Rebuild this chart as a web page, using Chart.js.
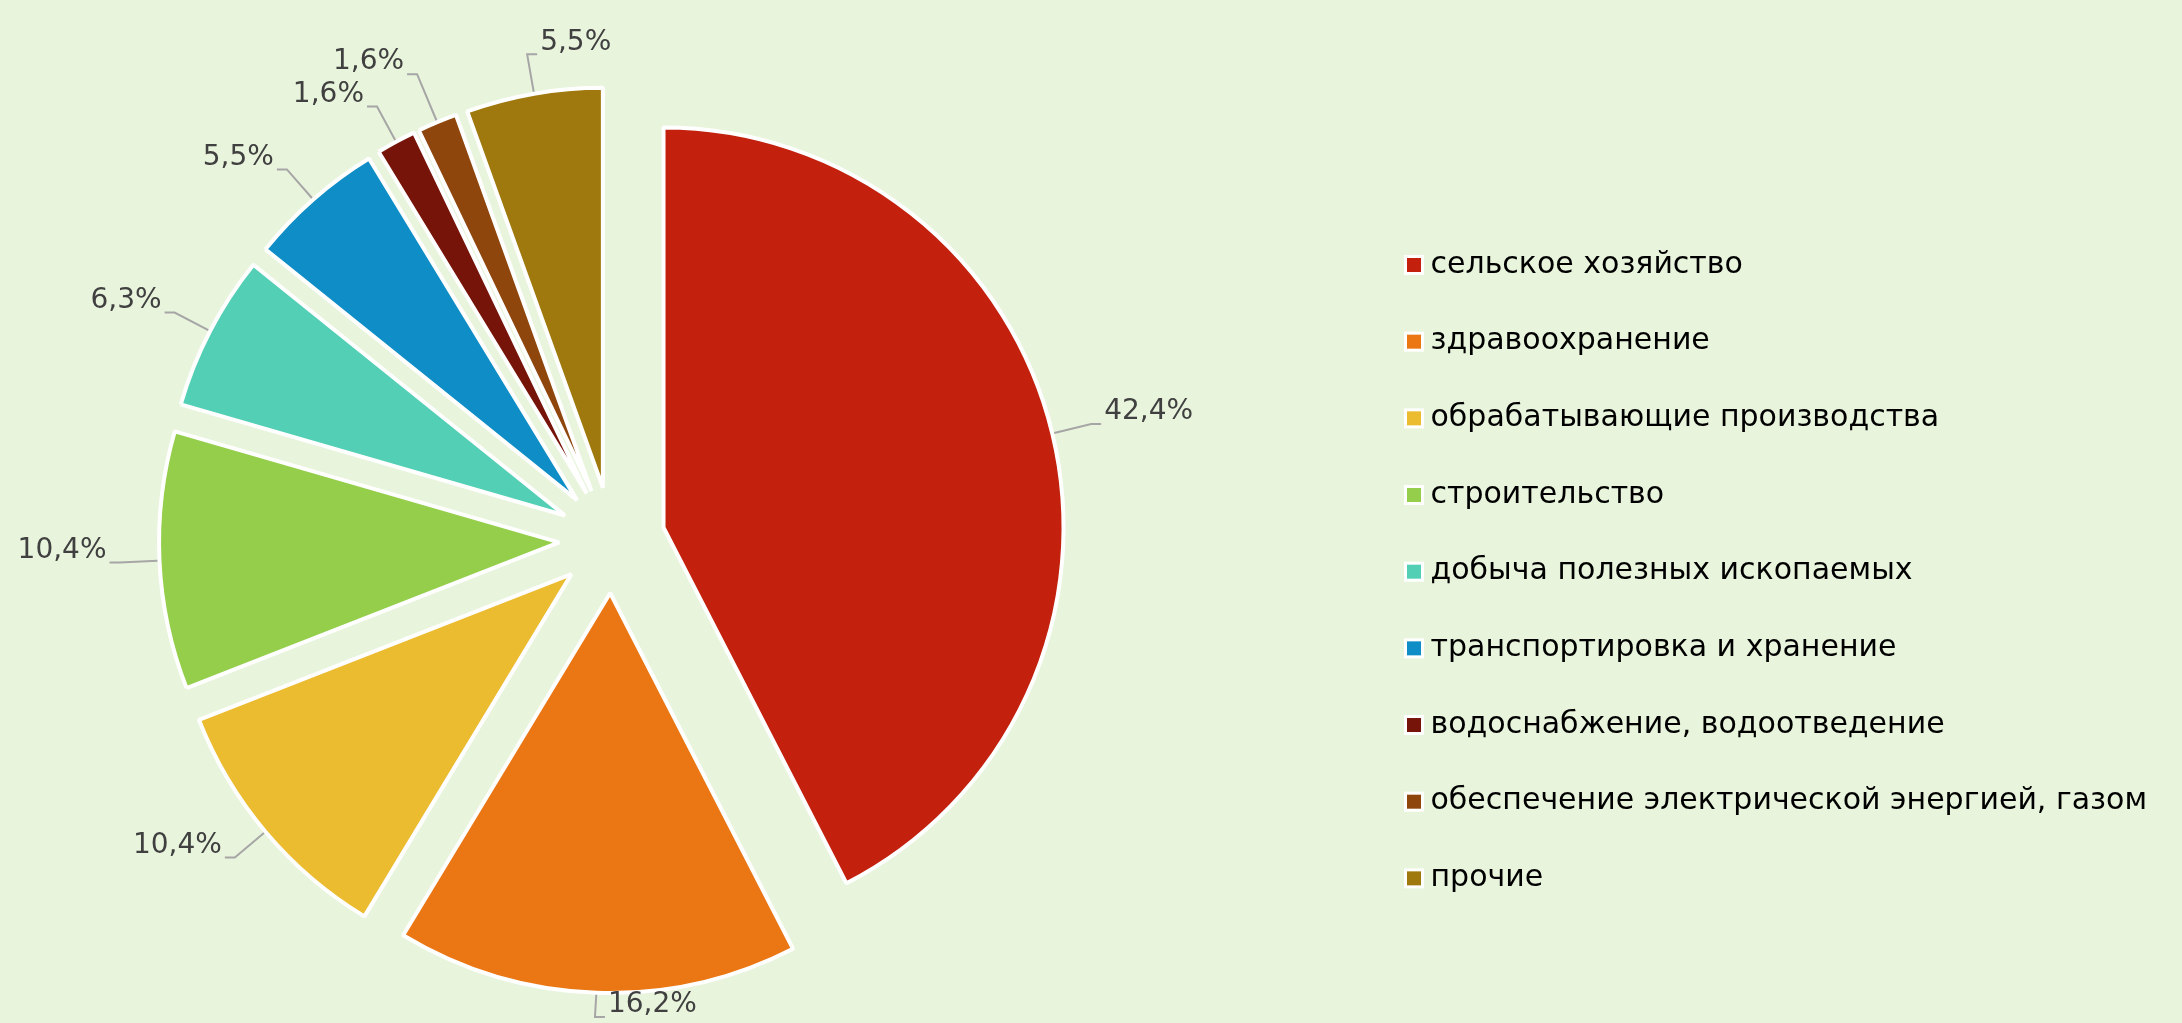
<!DOCTYPE html>
<html lang="ru">
<head>
<meta charset="utf-8">
<title>Структура по отраслям</title>
<script src="https://cdn.jsdelivr.net/npm/chart.js@4.4.1/dist/chart.umd.min.js"></script>
<style>
  html, body { margin: 0; padding: 0; background: #e8f5dc; overflow: hidden; }
</style>
</head>
<body>
<canvas id="chart" width="2182" height="1023"></canvas>
<script>
// данные
var sectors = [
    'сельское хозяйство',
    'здравоохранение',
    'обрабатывающие производства',
    'строительство',
    'добыча полезных ископаемых',
    'транспортировка и хранение',
    'водоснабжение, водоотведение',
    'обеспечение электрической энергией, газом',
    'прочие'
];
var shares = [42.4, 16.2, 10.4, 10.4, 6.3, 5.5, 1.6, 1.6, 5.5];
var colors = ['#c3200e', '#ea7614', '#ebbb30', '#94ce4b', '#52cfb4', '#0e8dc6', '#771409', '#8e460c', '#9f790e'];

var EXPLODE = 53;

function fmt(v) {
    return v.toFixed(1).replace('.', ',') + '%';
}

// every slice pushed out from the centre along its middle angle
var explode = {
    id: 'explode',
    beforeDatasetDraw: function(chart, args) {
        var ctx = chart.ctx;
        args.meta.data.forEach(function(arc) {
            var mid = (arc.startAngle + arc.endAngle) / 2;
            ctx.save();
            ctx.translate(Math.cos(mid) * EXPLODE, Math.sin(mid) * EXPLODE);
            arc.draw(ctx);
            ctx.restore();
        });
        return false;
    }
};

// percent labels with leader lines
var sliceLabels = {
    id: 'sliceLabels',
    afterDatasetsDraw: function(chart) {
        var ctx = chart.ctx;
        var meta = chart.getDatasetMeta(0);
        var placed = [];
        ctx.save();
        ctx.font = '28px "DejaVu Sans"';
        ctx.textBaseline = 'middle';
        meta.data.forEach(function(arc, i) {
            var p = arc.getProps(['x', 'y', 'startAngle', 'endAngle', 'outerRadius'], true);
            var mid = (p.startAngle + p.endAngle) / 2;
            var dx = Math.cos(mid), dy = Math.sin(mid);
            var cx = p.x + dx * EXPLODE, cy = p.y + dy * EXPLODE;
            var text = fmt(shares[i]);
            var w = ctx.measureText(text).width, h = 28;
            var side = dx > -0.2 ? 1 : -1;
            var lead = 40, ex, ey, tx, box;
            for (var k = 0; k < 30; k++) {
                ex = cx + dx * (p.outerRadius + lead);
                ey = Math.min(cy + dy * (p.outerRadius + lead), chart.height - 6);
                tx = ex + side * 10;
                var left = side > 0 ? tx + 3 : tx - 3 - w;
                box = {l: left, r: left + w, t: ey - 12 - h / 2, b: ey - 12 + h / 2};
                var hit = placed.some(function(q) {
                    return box.l < q.r && box.r > q.l && box.t < q.b && box.b > q.t;
                });
                if (!hit) break;
                lead += 6;
            }
            placed.push(box);
            var ax = cx + dx * (p.outerRadius + 2), ay = cy + dy * (p.outerRadius + 2);
            ctx.strokeStyle = '#a6a6a6';
            ctx.lineWidth = 2;
            ctx.beginPath();
            ctx.moveTo(ax, ay);
            ctx.lineTo(ex, ey);
            ctx.lineTo(tx, ey);
            ctx.stroke();
            ctx.fillStyle = '#404040';
            ctx.textAlign = 'left';
            ctx.fillText(text, box.l, ey - 12);
        });
        ctx.restore();
    }
};

// legend column to the right of the pie
var sideLegend = {
    id: 'sideLegend',
    afterDraw: function(chart) {
        var ctx = chart.ctx;
        var items = Chart.overrides.pie.plugins.legend.labels.generateLabels(chart);
        var x0 = chart.chartArea.right + 181.5;
        var y0 = 265, rowH = 76.67, size = 17;
        ctx.save();
        ctx.font = '30px "DejaVu Sans"';
        ctx.textBaseline = 'middle';
        ctx.textAlign = 'left';
        items.forEach(function(item, i) {
            var y = y0 + i * rowH;
            ctx.fillStyle = item.fillStyle;
            ctx.fillRect(x0, y - size / 2, size, size);
            ctx.strokeStyle = '#ffffff';
            ctx.lineWidth = 3;
            ctx.strokeRect(x0, y - size / 2, size, size);
            ctx.fillStyle = '#000000';
            ctx.fillText(item.text, x0 + size + 8, y);
        });
        ctx.restore();
    }
};

var ctx = document.getElementById('chart').getContext('2d');
var myChart = new Chart(ctx, {
    type: 'pie',
    data: {
        labels: sectors,
        datasets: [{
            data: shares,
            backgroundColor: colors,
            borderColor: '#ffffff',
            borderWidth: 4
        }]
    },
    options: {
        responsive: false,
        animation: false,
        events: [],
        radius: 400,
        layout: {
            padding: {left: 0, right: 958, top: 57, bottom: 0}
        },
        plugins: {
            tooltip: {enabled: false},
            legend: {display: false}
        }
    },
    plugins: [explode, sliceLabels, sideLegend]
});
</script>
</body>
</html>
